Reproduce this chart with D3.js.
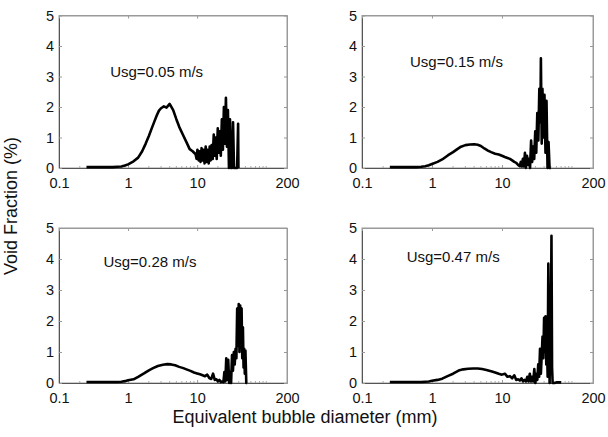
<!DOCTYPE html>
<html>
<head>
<meta charset="utf-8">
<script src="https://cdn.jsdelivr.net/npm/d3@7"></script>
<style>
  body { margin: 0; background: #fff; }
  text { font-family: 'Liberation Sans', Arial, sans-serif; }
</style>
</head>
<body>
<div id="chart"></div>
<script>
// axis ticks
const xTicks = [0.1, 1, 10, 200]
const yTicks = [0, 1, 2, 3, 4, 5]
const labels = ['Usg=0.05 m/s', 'Usg=0.15 m/s', 'Usg=0.28 m/s', 'Usg=0.47 m/s']

// Usg = 0.05 m/s
const diamA = [0.25, 0.3, 0.4, 0.5, 0.6, 0.7, 0.8, 0.9, 1.0, 1.2, 1.4, 1.6, 1.8, 2.0, 2.2, 2.4, 2.6, 2.8, 3.0, 3.3,
  3.6, 4.0, 4.5, 5.0, 5.5, 6.2, 7.0, 7.8, 8.6, 9.5,
  9.8, 10.1, 10.5, 10.8, 11.2, 11.6, 12.0, 12.4, 12.8, 13.3, 13.7, 14.2, 14.7, 15.2, 15.7, 16.2, 16.8, 17.4, 18.0, 18.6,
  19.2, 19.9, 20.6, 21.3, 22.0, 22.8, 23.6, 24.4, 25.2, 26.1, 27.0, 27.9, 28.9, 29.9, 30.9, 32.0, 33.1, 34.2, 35.4, 36.6,
  37.9, 39.2, 39.6]
const voidA = [0.03, 0.03, 0.03, 0.03, 0.03, 0.04, 0.05, 0.08, 0.12, 0.22, 0.34, 0.55, 0.8, 1.05, 1.3, 1.52, 1.72, 1.88, 1.96, 2.02,
  1.98, 2.1, 1.9, 1.6, 1.35, 1.1, 0.85, 0.62, 0.55, 0.45,
  0.3, 0.6, 0.25, 0.55, 0.2, 0.65, 0.25, 0.6, 0.15, 0.7, 0.2, 0.6, 0.15, 0.7, 0.25, 0.75, 0.3, 1.1, 0.4, 1.0,
  0.3, 1.3, 0.5, 1.2, 0.4, 1.6, 0.6, 2.0, 0.8, 2.3, 0.7, 1.9, 0.0, 1.6, 0.0, 0.0, 1.5, 0.0, 0.0, 0.0,
  0.0, 1.45, 0.0]

// Usg = 0.15 m/s
const diamB = [0.25, 0.3, 0.4, 0.5, 0.6, 0.7, 0.8, 0.9, 1.0, 1.2, 1.4, 1.7, 2.0, 2.3, 2.6, 3.0, 3.5, 4.0, 4.5, 5.0,
  5.6, 6.3, 7.0, 8.0, 9.0, 10.0, 11.0, 12.0, 13.0, 14.0, 15.0, 16.0, 17.0, 18.0,
  18.6, 19.2, 19.9, 20.6, 21.3, 22.0, 22.8, 23.6, 24.4, 25.2, 26.1, 27.0, 27.9, 28.9, 29.9, 30.9, 32.0, 33.1, 34.2, 35.4,
  36.0, 37.0, 37.9, 39.2, 40.5, 41.9, 43.3, 44.8, 46.3, 47.9, 50.0]
const voidB = [0.03, 0.03, 0.03, 0.03, 0.03, 0.04, 0.06, 0.09, 0.13, 0.2, 0.28, 0.42, 0.52, 0.62, 0.7, 0.75, 0.77, 0.78, 0.76, 0.72,
  0.64, 0.57, 0.52, 0.47, 0.44, 0.4, 0.36, 0.33, 0.3, 0.25, 0.2, 0.17, 0.1, 0.06,
  0.2, 0.05, 0.3, 0.05, 0.5, 0.0, 0.4, 0.1, 0.3, 0.0, 0.9, 0.2, 0.7, 0.3, 1.2, 0.5, 1.8, 0.9, 2.6, 1.5,
  3.6, 0.8, 2.6, 1.0, 2.4, 0.5, 2.2, 0.0, 0.85, 0.0, 0.0]

// Usg = 0.28 m/s
const diamC = [0.25, 0.3, 0.4, 0.5, 0.6, 0.7, 0.8, 0.9, 1.0, 1.2, 1.4, 1.7, 2.0, 2.3, 2.7, 3.2, 3.7, 4.2, 4.8, 5.5,
  6.3, 7.0, 8.0, 9.0, 10.0, 11.0, 12.0, 13.0, 14.0, 15.0, 16.0, 17.0, 18.0, 19.0, 20.0, 21.0, 22.0, 23.0, 24.0,
  24.8, 25.6, 26.4, 27.3, 28.2, 29.1, 30.0, 31.0, 32.0, 33.0, 34.0, 35.0, 36.0, 37.0, 38.0, 39.0, 40.0, 41.0, 42.0, 43.0,
  44.0, 45.0, 46.0, 47.0, 48.0, 49.0, 50.0, 51.5, 53.0]
const voidC = [0.03, 0.03, 0.03, 0.03, 0.03, 0.03, 0.04, 0.06, 0.09, 0.12, 0.2, 0.31, 0.41, 0.48, 0.55, 0.59, 0.61, 0.6, 0.57, 0.52,
  0.48, 0.44, 0.39, 0.34, 0.31, 0.28, 0.25, 0.22, 0.27, 0.16, 0.13, 0.3, 0.1, 0.12, 0.05, 0.1, 0.03, 0.05, 0.03,
  0.35, 0.05, 0.8, 0.1, 0.75, 0.0, 0.35, 0.0, 0.9, 0.4, 1.0, 0.6, 1.1, 0.8, 2.4, 1.2, 2.55, 1.0, 2.5, 1.2,
  2.4, 0.8, 1.8, 0.5, 1.1, 0.3, 1.05, 0.0, 0.0]

// Usg = 0.47 m/s
const diamD = [0.25, 0.3, 0.4, 0.5, 0.6, 0.7, 0.8, 0.9, 1.0, 1.2, 1.4, 1.7, 2.0, 2.4, 2.8, 3.3, 3.9, 4.5, 5.2, 6.0,
  7.0, 8.0, 9.0, 10.0, 11.0, 12.0, 13.0, 14.0, 15.0, 16.0, 17.0, 18.0, 19.0, 20.0, 21.0, 22.0, 23.0,
  24.0, 25.0, 26.0, 27.0, 28.0, 29.0, 30.0, 31.0, 32.0, 33.0, 34.0, 35.0, 36.0, 37.0, 38.0, 39.0, 40.0, 41.0, 42.0, 43.0,
  44.0, 45.0, 46.0, 47.0, 48.0, 49.0, 50.0, 51.0, 52.0, 53.0, 56.0, 60.0, 70.0]
const voidD = [0.03, 0.03, 0.03, 0.03, 0.03, 0.03, 0.04, 0.05, 0.07, 0.1, 0.14, 0.23, 0.3, 0.4, 0.44, 0.46, 0.47, 0.47, 0.45, 0.42,
  0.38, 0.34, 0.3, 0.27, 0.3, 0.2, 0.22, 0.15, 0.25, 0.1, 0.12, 0.08, 0.15, 0.05, 0.1, 0.05, 0.2,
  0.05, 0.3, 0.05, 0.2, 0.05, 0.45, 0.0, 0.3, 0.1, 0.6, 0.2, 1.1, 0.3, 0.9, 1.5, 0.8, 2.1, 1.0, 2.15, 0.6,
  1.2, 0.2, 3.85, 1.8, 0.0, 2.5, 1.5, 4.75, 0.5, 0.0, 0.0, 0.02, 0.02]

const width = 608
const height = 437

// pixel extents of the 2x2 grid
const cols = [[59, 287], [362, 593]]
const rows = [[15.5, 168], [228, 383]]

const panels = [
  { diam: diamA, voidf: voidA, label: labels[0], col: 0, row: 0, lx: 0.55, ly: 2.98 },
  { diam: diamB, voidf: voidB, label: labels[1], col: 1, row: 0, lx: 0.485, ly: 3.31 },
  { diam: diamC, voidf: voidC, label: labels[2], col: 0, row: 1, lx: 0.44, ly: 3.74 },
  { diam: diamD, voidf: voidD, label: labels[3], col: 1, row: 1, lx: 0.435, ly: 3.9 }
]

const svg = d3
  .select('#chart')
  .append('svg')
  .attr('width', width)
  .attr('height', height)

panels.forEach(p => {
  const [x0, x1] = cols[p.col]
  const [y0, y1] = rows[p.row]

  const xPositionScale = d3.scaleLog().domain([0.1, 200]).range([x0, x1])
  const yPositionScale = d3.scaleLinear().domain([0, 5]).range([y1, y0])

  const g = svg.append('g')

  // light frame on top and right
  g.append('rect')
    .attr('x', x0)
    .attr('y', y0)
    .attr('width', x1 - x0)
    .attr('height', y1 - y0)
    .attr('fill', 'none')
    .attr('stroke', '#9a9a9a')
    .attr('stroke-width', 1)

  // minor ticks on the log axis
  const minor = xPositionScale.ticks().filter(d => !xTicks.includes(d))
  g.selectAll('.minor')
    .data(minor)
    .enter()
    .append('line')
    .attr('class', 'minor')
    .attr('x1', d => xPositionScale(d))
    .attr('x2', d => xPositionScale(d))
    .attr('y1', y1)
    .attr('y2', y1 - 2)
    .attr('stroke', '#aaa')

  const xAxis = d3
    .axisBottom(xPositionScale)
    .tickValues(xTicks)
    .tickFormat(d3.format(''))
    .tickSizeInner(-3)
    .tickSizeOuter(0)
    .tickPadding(10)

  const yAxis = d3
    .axisLeft(yPositionScale)
    .tickValues(yTicks)
    .tickFormat(d3.format('d'))
    .tickSizeInner(-3)
    .tickSizeOuter(0)
    .tickPadding(5)

  g.append('g')
    .attr('class', 'axis x-axis')
    .attr('transform', 'translate(0,' + y1 + ')')
    .call(xAxis)

  g.append('g')
    .attr('class', 'axis y-axis')
    .attr('transform', 'translate(' + x0 + ',0)')
    .call(yAxis)

  // inner ticks on top and right borders
  g.append('g')
    .attr('class', 'axis')
    .attr('transform', 'translate(0,' + y0 + ')')
    .call(d3.axisTop(xPositionScale).tickValues(xTicks).tickSizeInner(-3).tickSizeOuter(0).tickFormat(''))

  g.append('g')
    .attr('class', 'axis')
    .attr('transform', 'translate(' + x1 + ',0)')
    .call(d3.axisRight(yPositionScale).tickValues(yTicks).tickSizeInner(-3).tickSizeOuter(0).tickFormat(''))

  g.selectAll('.axis')
    .attr('font-size', 14.5)
    .attr('font-family', "'Liberation Sans', Arial, sans-serif")
  g.selectAll('.axis text').attr('fill', '#111')
  g.selectAll('.axis .tick line').attr('stroke', '#999')
  g.selectAll('.axis .domain').attr('stroke', '#9a9a9a')
  g.selectAll('.x-axis .domain, .y-axis .domain').attr('stroke', '#555')

  const line = d3
    .line()
    .x(d => xPositionScale(d[0]))
    .y(d => yPositionScale(d[1]))

  g.append('path')
    .datum(d3.zip(p.diam, p.voidf))
    .attr('d', line)
    .attr('fill', 'none')
    .attr('stroke', '#000')
    .attr('stroke-width', 2.6)
    .attr('stroke-linejoin', 'round')

  g.append('text')
    .text(p.label)
    .attr('x', xPositionScale(p.lx))
    .attr('y', yPositionScale(p.ly))
    .attr('font-size', 15)
    .attr('fill', '#111')
})

svg
  .append('text')
  .text('Equivalent bubble diameter (mm)')
  .attr('text-anchor', 'middle')
  .attr('x', 305)
  .attr('y', 423)
  .attr('font-size', 18)
  .attr('fill', '#111')

svg
  .append('text')
  .text('Void Fraction (%)')
  .attr('text-anchor', 'middle')
  .attr('transform', 'translate(17,206) rotate(-90)')
  .attr('font-size', 18)
  .attr('fill', '#111')
</script>
</body>
</html>
